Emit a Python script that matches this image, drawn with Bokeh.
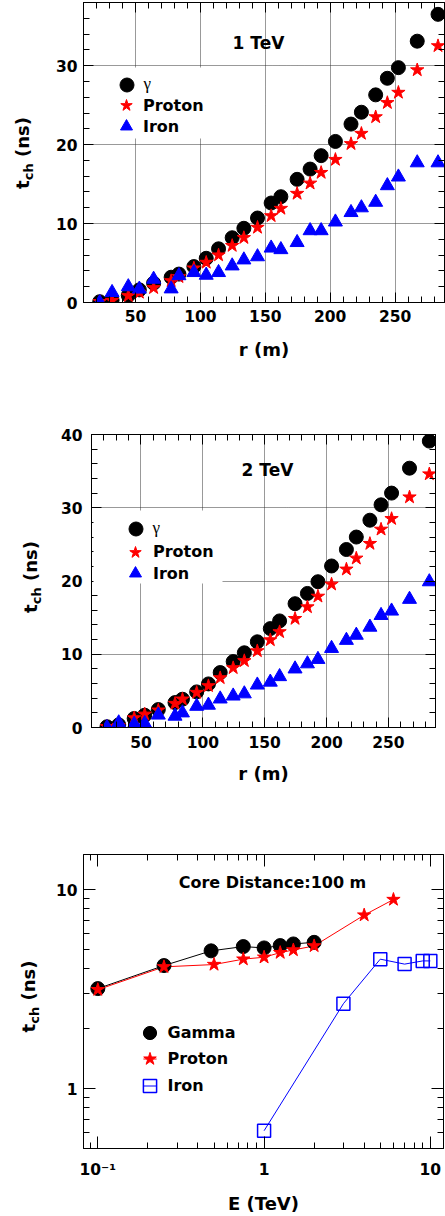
from math import pi
from bokeh.plotting import figure
from bokeh.layouts import column, row
from bokeh.models import (Range1d, LinearAxis, LogAxis, SingleIntervalTicker, FixedTicker,
                          Label, Legend, LegendItem, CustomJSTickFormatter, BoxAnnotation)
from bokeh.embed import file_html
from bokeh.resources import INLINE

# ---------------- data ----------------
r_m = [22.5, 32, 44.5, 53, 64, 77.5, 83.5, 95, 104.5, 114, 124.5, 133.5, 144, 154.5,
       162, 174.5, 184.5, 193, 204, 216, 224, 235, 244, 252.5, 267, 283]

t_gamma_1tev = [0.1, 0.3, 0.9, 1.6, 2.45, 3.2, 3.6, 4.55, 5.6, 6.8, 8.2, 9.4, 10.7, 12.6,
                13.4, 15.6, 16.9, 18.6, 20.4, 22.6, 24.1, 26.3, 28.4, 29.75, 33.1, 36.5]
t_proton_1tev = [0.1, 0.25, 0.85, 1.27, 1.86, 2.74, 3.25, 4.35, 5.07, 6.0, 7.2, 8.2, 9.5, 10.97,
                 11.9, 13.8, 15.1, 16.45, 18.1, 20.1, 21.4, 23.5, 25.3, 26.6, 29.45, 32.5]
t_iron_1tev = [0.0, 1.27, 2.0, 1.7, 2.95, 1.73, 3.4, 3.8, 3.46, 3.8, 4.64, 5.4, 5.8, 6.9,
               6.7, 7.6, 9.1, 9.1, 10.2, 11.4, 12.0, 12.7, 14.8, 15.9, 17.7, 17.7]

t_gamma_2tev = [0.1, 0.36, 1.23, 1.68, 2.45, 3.4, 3.86, 4.86, 5.95, 7.5, 9.0, 10.2, 11.7, 13.5,
                14.55, 16.9, 18.3, 19.9, 22.05, 24.3, 26.0, 28.3, 30.4, 32.0, 35.4, 39.1]
t_proton_2tev = [0.1, 0.23, 1.3, 1.8, 2.36, 3.27, 3.86, 4.77, 5.68, 6.77, 8.14, 9.1, 10.45, 11.95,
                 13.05, 14.86, 16.45, 17.9, 19.55, 21.6, 23.1, 25.1, 27.05, 28.5, 31.45, 34.6]
t_iron_2tev = [0.0, 0.64, 0.45, 0.55, 1.7, 1.55, 2.0, 2.9, 3.05, 3.9, 4.3, 4.6, 5.8, 6.2,
               6.95, 8.0, 8.7, 9.3, 10.8, 11.9, 12.6, 13.7, 15.3, 15.9, 17.5, 19.9]

e_gamma = [0.1, 0.25, 0.48, 0.75, 1.0, 1.25, 1.5, 2.0]
t_gamma_100m = [3.18, 4.15, 4.92, 5.17, 5.09, 5.23, 5.33, 5.43]
e_proton = [0.1, 0.25, 0.5, 0.75, 1.0, 1.25, 1.5, 2.0, 4.0, 6.0]
t_proton_100m = [3.14, 4.09, 4.2, 4.47, 4.57, 4.82, 4.97, 5.21, 7.44, 8.91]
e_iron = [1.0, 3.0, 5.0, 7.0, 9.0, 10.0]
t_iron_100m = [0.614, 2.67, 4.47, 4.22, 4.38, 4.38]

# tick positions
log_x_major = [0.1, 1, 10]
log_x_minor = [0.09, 0.2, 0.3, 0.4, 0.5, 0.6, 0.7, 0.8, 0.9, 2, 3, 4, 5, 6, 7, 8, 9]
log_y_major = [1, 10]
log_y_minor = [0.5, 0.6, 0.7, 0.8, 0.9, 2, 3, 4, 5, 6, 7, 8, 9]

FONT = "DejaVu Sans"
TICK_FS = "15.5px"
LABW = 52  # width of the side strip carrying the rotated y label


def style_axis(ax, labels=True, maj=10, mnr=6, standoff=6):
    ax.major_tick_in = maj
    ax.major_tick_out = 0
    ax.minor_tick_in = mnr
    ax.minor_tick_out = 0
    ax.axis_line_color = "black"
    ax.major_tick_line_color = "black"
    ax.minor_tick_line_color = "black"
    if labels:
        ax.major_label_text_font = FONT
        ax.major_label_text_font_style = "bold"
        ax.major_label_text_font_size = TICK_FS
        ax.major_label_text_color = "black"
        ax.major_label_standoff = standoff
    else:
        ax.formatter = CustomJSTickFormatter(code="return '';")
        ax.major_label_text_font_size = "1px"
        ax.major_label_standoff = 0


def style_xlabel(ax, text, standoff):
    ax.axis_label = text
    ax.axis_label_text_font = FONT
    ax.axis_label_text_font_style = "bold"
    ax.axis_label_text_font_size = "18px"
    ax.axis_label_text_color = "black"
    ax.axis_label_standoff = standoff


def ylabel_strip(height, x_top, y_center):
    """Narrow strip to the left of a panel; y positions are measured from the
    bottom of the panel's frame (row layout aligns the frames).
    x_top: screen x of the top edge of the rotated main text."""
    s = figure(width=LABW, height=height, x_range=Range1d(0, 1), y_range=Range1d(0, 1),
               output_backend="svg", toolbar_location=None, min_border=0,
               min_border_left=0, min_border_right=0, min_border_top=0, min_border_bottom=0,
               x_axis_location=None, y_axis_location=None, outline_line_color=None,
               background_fill_color="white", border_fill_color="white")
    s.grid.visible = False
    main, sub = 18, 13
    lt, lch, gap, lns = 0.478 * main, 1.305 * sub, 0.348 * main, 2.221 * main
    total = lt + lch + gap + lns
    y0 = y_center - total / 2
    common = dict(x_units="screen", y_units="screen", angle=pi / 2, text_font=FONT,
                  text_font_style="bold", text_color="black",
                  text_baseline="top", text_align="left")
    s.add_layout(Label(x=x_top, y=y0, text="t", text_font_size=f"{main}px", **common))
    s.add_layout(Label(x=x_top + 9, y=y0 + lt, text="ch", text_font_size=f"{sub}px", **common))
    s.add_layout(Label(x=x_top, y=y0 + lt + lch + gap, text="(ns)",
                       text_font_size=f"{main}px", **common))
    return s


def one_legend(renderers, label, cx, cy, gsize, standoff, font, fs, style):
    return Legend(items=[LegendItem(label=label, renderers=renderers)],
                  location=(cx - gsize / 2, cy - gsize / 2),
                  glyph_width=gsize, glyph_height=gsize, label_standoff=standoff,
                  padding=0, margin=0, spacing=0, border_line_color=None,
                  background_fill_alpha=0, label_text_font=font,
                  label_text_font_style=style, label_text_font_size=fs,
                  label_text_color="black", label_height=20)


def linear_panel(ymax, t_g, t_p, t_i, title, height, mb, title_xy, box, legpos,
                 tick_std_x, tick_std_y, xlab_std):
    left, right, top, bottom = mb
    p = figure(width=445 - LABW, height=height, x_range=Range1d(10, 288),
               y_range=Range1d(0, ymax), output_backend="svg", toolbar_location=None,
               min_border_left=left, min_border_right=right,
               min_border_top=top, min_border_bottom=bottom,
               outline_line_color="black", background_fill_color="white",
               border_fill_color="white")
    xt = SingleIntervalTicker(interval=50, num_minor_ticks=5)
    yt = SingleIntervalTicker(interval=10, num_minor_ticks=5)
    p.xaxis.ticker = xt
    p.yaxis.ticker = yt
    p.xgrid.ticker = xt
    p.ygrid.ticker = yt
    p.grid.grid_line_color = "#333333"
    p.grid.grid_line_dash = "1 1"
    p.grid.grid_line_width = 1
    style_axis(p.xaxis[0], standoff=tick_std_x)
    style_axis(p.yaxis[0], standoff=tick_std_y)
    style_xlabel(p.xaxis[0], "r (m)", xlab_std)
    top_ax = LinearAxis(ticker=xt)
    style_axis(top_ax, labels=False)
    p.add_layout(top_ax, "above")
    right_ax = LinearAxis(ticker=yt)
    style_axis(right_ax, labels=False)
    p.add_layout(right_ax, "right")

    g = p.scatter(r_m, t_g, marker="circle", size=14, fill_color="black", line_color="black")
    pr = p.scatter(r_m, t_p, marker="star", size=14, fill_color="red", line_color="red")
    ir = p.scatter(r_m, t_i, marker="triangle", size=14, fill_color="blue", line_color="blue")

    bl, br, bt, bb = box
    p.add_layout(BoxAnnotation(left=bl, right=br, top=bt, bottom=bb, left_units="screen",
                               right_units="screen", top_units="screen", bottom_units="screen",
                               fill_color="white", fill_alpha=1.0, line_color=None))
    (gx, gy), (px_, py_, pstd), (ix, iy) = legpos
    p.add_layout(one_legend([g], "γ", gx, gy, 35, 0, "Liberation Serif", "17px", "normal"))
    p.add_layout(one_legend([pr], "Proton", px_, py_, 30, pstd, FONT, "16px", "bold"))
    p.add_layout(one_legend([ir], "Iron", ix, iy, 30, pstd, FONT, "16px", "bold"))

    p.add_layout(Label(x=title_xy[0], y=title_xy[1], x_units="screen", y_units="screen",
                       text=title, text_font=FONT, text_font_style="bold",
                       text_font_size="17px", text_align="center", text_baseline="middle",
                       text_color="black"))
    return p


p1 = linear_panel(38, t_gamma_1tev, t_proton_1tev, t_iron_1tev, "1 TeV", 400,
                  (83 - LABW, 1, 2, 98), (175, 260), (12, 132, 235, 164),
                  ((43, 218), (43, 197, 2), (43, 176)), 7, 6, 14)
s1 = ylabel_strip(400, 11, 149.5)

p2 = linear_panel(40, t_gamma_2tev, t_proton_2tev, t_iron_2tev, "2 TeV", 410,
                  (91 - LABW, 10, 34, 83), (176, 258), (2, 131, 217, 144),
                  ((44, 198.7), (44, 175.3, 3), (44, 153.7)), 8, 9, 12)
s2 = ylabel_strip(410, 19.5, 150.5)

# ---------------- panel 3 ----------------
p3 = figure(width=445 - LABW, height=406, x_axis_type="log", y_axis_type="log",
            x_range=Range1d(0.082, 12), y_range=Range1d(0.5, 15),
            output_backend="svg", toolbar_location=None,
            min_border_left=83 - LABW, min_border_right=2, min_border_top=44,
            min_border_bottom=66, outline_line_color="black",
            background_fill_color="white", border_fill_color="white")
p3.grid.visible = False
fx = FixedTicker(ticks=log_x_major, minor_ticks=log_x_minor)
fy = FixedTicker(ticks=log_y_major, minor_ticks=log_y_minor)
p3.xaxis.ticker = fx
p3.yaxis.ticker = fy
style_axis(p3.xaxis[0], maj=12, mnr=6, standoff=12)
style_axis(p3.yaxis[0], maj=12, mnr=6, standoff=6)
p3.xaxis[0].formatter = CustomJSTickFormatter(
    code="if (Math.abs(tick - 0.1) < 1e-9) { return '10⁻¹'; } return tick.toFixed(0);")
p3.yaxis[0].formatter = CustomJSTickFormatter(code="return tick.toFixed(0);")
style_xlabel(p3.xaxis[0], "E (TeV)", 11)
top3 = LogAxis(ticker=fx)
style_axis(top3, labels=False, maj=12, mnr=6)
p3.add_layout(top3, "above")
right3 = LogAxis(ticker=fy)
style_axis(right3, labels=False, maj=12, mnr=6)
p3.add_layout(right3, "right")

p3.line(e_gamma, t_gamma_100m, line_color="black", line_width=1)
p3.line(e_proton, t_proton_100m, line_color="red", line_width=1)
p3.line(e_iron, t_iron_100m, line_color="blue", line_width=1)
dg = p3.scatter(e_gamma, t_gamma_100m, marker="dash", size=0, line_color="black", line_width=1)
dp = p3.scatter(e_proton, t_proton_100m, marker="dash", size=0, line_color="red", line_width=1)
di = p3.scatter(e_iron, t_iron_100m, marker="dash", size=0, line_color="blue", line_width=1)
cg = p3.scatter(e_gamma, t_gamma_100m, marker="circle", size=14, fill_color="black",
                line_color="black")
sp = p3.scatter(e_proton, t_proton_100m, marker="star", size=14, fill_color="red",
                line_color="red")
si = p3.scatter(e_iron, t_iron_100m, marker="square", size=13, fill_color=None,
                line_color="blue", line_width=1.5)

p3.add_layout(one_legend([dg, cg], "Gamma", 66, 116, 33, 2, FONT, "16px", "bold"))
p3.add_layout(one_legend([dp, sp], "Proton", 66, 90, 33, 2, FONT, "16px", "bold"))
p3.add_layout(one_legend([di, si], "Iron", 66, 63, 33, 2, FONT, "16px", "bold"))

p3.add_layout(Label(x=189, y=266, x_units="screen", y_units="screen",
                    text="Core Distance:100 m", text_font=FONT, text_font_style="bold",
                    text_font_size="16px", text_align="center", text_baseline="middle",
                    text_color="black"))
s3 = ylabel_strip(406, 17, 152)

layout = column(row(s1, p1), row(s2, p2), row(s3, p3))
open("out.html", "w").write(file_html(layout, INLINE))
